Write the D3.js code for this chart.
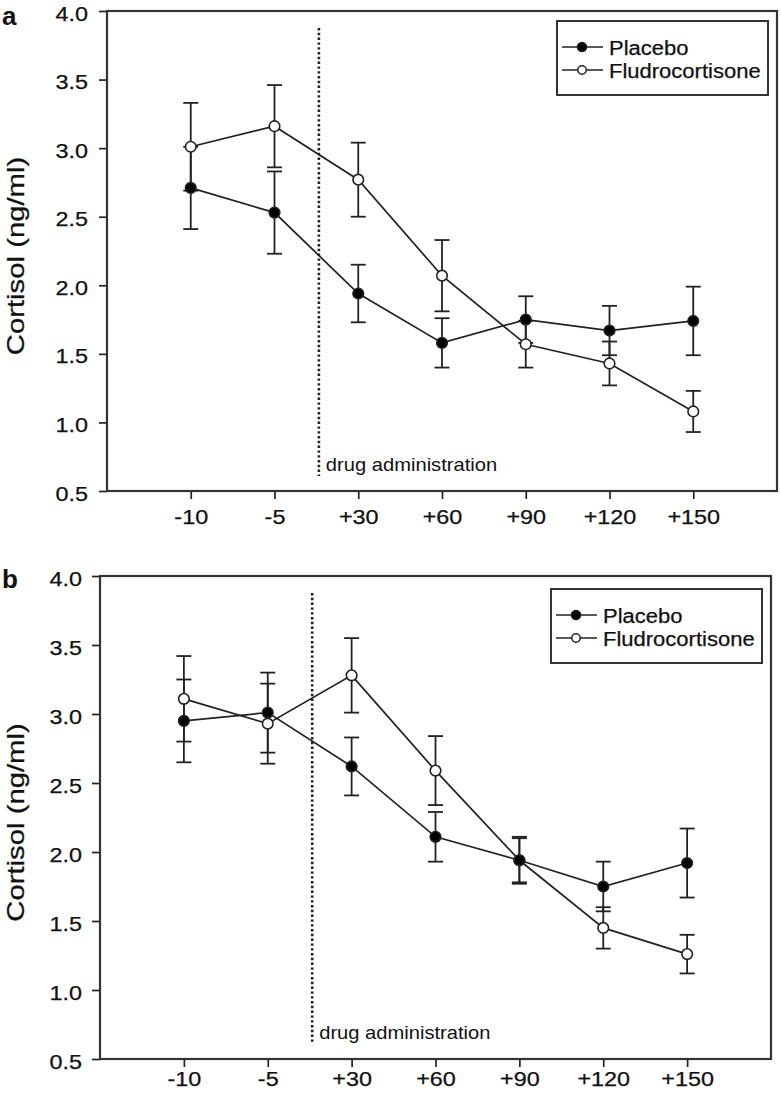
<!DOCTYPE html>
<html>
<head>
<meta charset="utf-8">
<script src="https://cdn.jsdelivr.net/npm/d3@7"></script>
<style>
  html, body { margin: 0; padding: 0; background: #fff; }
  svg { display: block; }
  text { font-family: "Liberation Sans", Arial, sans-serif; fill: #111; }
</style>
</head>
<body>
<svg id="chart" width="781" height="1099"></svg>
<script>
// ---- data ----
const timepoints = ["-10", "-5", "+30", "+60", "+90", "+120", "+150"];
const yTickValues = [0.5, 1.0, 1.5, 2.0, 2.5, 3.0, 3.5, 4.0];
const seriesNames = ["Placebo", "Fludrocortisone"];
const drugIndex = 1.53; // position of drug administration between -5 and +30

const placeboA    = [2.71, 2.53, 1.94, 1.58, 1.75, 1.67, 1.74];
const placeboAErr = [0.30, 0.30, 0.21, 0.18, 0.17, 0.18, 0.25];
const fludroA     = [3.01, 3.16, 2.77, 2.07, 1.57, 1.43, 1.08];
const fludroAErr  = [0.32, 0.30, 0.27, 0.26, 0.17, 0.16, 0.15];

const placeboB    = [2.95, 3.01, 2.62, 2.11, 1.94, 1.75, 1.92];
const placeboBErr = [0.30, 0.29, 0.21, 0.18, 0.17, 0.18, 0.25];
const fludroB     = [3.11, 2.93, 3.28, 2.59, 1.94, 1.45, 1.26];
const fludroBErr  = [0.31, 0.29, 0.27, 0.25, 0.16, 0.15, 0.14];

const svg = d3.select("#chart");
const INK = "#222";

function stretch(sel, factor) {
  sel.each(function () {
    const len = this.getComputedTextLength();
    d3.select(this).attr("textLength", len * factor).attr("lengthAdjust", "spacingAndGlyphs");
  });
}

function drawPanel(cfg) {
  const g = svg.append("g");
  const x = d3.scaleLinear().domain([-1, timepoints.length]).range([cfg.left, cfg.right]);
  const y = d3.scaleLinear().domain([0.5, 4.0]).range([cfg.bottom, cfg.top]);

  // axes
  const yAxis = g.append("g")
    .attr("transform", `translate(${cfg.left},0)`)
    .call(d3.axisLeft(y).tickValues(yTickValues).tickFormat(d3.format(".1f"))
      .tickSize(8).tickSizeOuter(0).tickPadding(cfg.yPad));
  const xAxis = g.append("g")
    .attr("transform", `translate(0,${cfg.bottom})`)
    .call(d3.axisBottom(x).tickValues(d3.range(timepoints.length))
      .tickFormat(i => timepoints[i]).tickSize(8).tickSizeOuter(0).tickPadding(cfg.xPad));
  [yAxis, xAxis].forEach(a => {
    a.select(".domain").remove();
    a.selectAll(".tick line").attr("stroke", INK).attr("stroke-width", 1.7);
    a.selectAll(".tick text").attr("fill", "#111")
      .attr("stroke", "#111").attr("stroke-width", 0.25)
      .style("font-size", "20px").style("font-family", '"Liberation Sans", Arial, sans-serif');
  });
  yAxis.selectAll(".tick text").attr("dy", "0.45em");
  stretch(yAxis.selectAll(".tick text"), 1.17);
  stretch(xAxis.selectAll(".tick text"), 1.17);

  // frame
  g.append("rect")
    .attr("x", cfg.left).attr("y", cfg.top)
    .attr("width", cfg.right - cfg.left).attr("height", cfg.bottom - cfg.top)
    .attr("fill", "none").attr("stroke", "#333").attr("stroke-width", 2.2);

  // drug administration line
  const dx = x(drugIndex);
  g.append("line")
    .attr("x1", dx).attr("x2", dx)
    .attr("y1", cfg.top + 17).attr("y2", cfg.bottom - 15)
    .attr("stroke", INK).attr("stroke-width", 2.6)
    .attr("stroke-dasharray", "2.4,2.4");
  const dt = g.append("text")
    .attr("x", dx + 7).attr("y", cfg.bottom - 20)
    .style("font-size", "19px")
    .text("drug administration");
  stretch(dt, 1.06);

  // y label
  const yl = g.append("text")
    .attr("transform", `translate(${cfg.labelX},${(cfg.top + cfg.bottom) / 2 + cfg.labelDy}) rotate(-90)`)
    .attr("text-anchor", "middle")
    .attr("stroke", "#111").attr("stroke-width", 0.25)
    .style("font-size", "24px")
    .text("Cortisol (ng/ml)");
  stretch(yl, 1.22);

  // panel letter
  g.append("text")
    .attr("x", 2).attr("y", cfg.letterY)
    .style("font-size", "26px").style("font-weight", "bold")
    .text(cfg.letter);

  const series = [
    { name: seriesNames[0], vals: cfg.placebo, err: cfg.placeboErr, fill: "#000" },
    { name: seriesNames[1], vals: cfg.fludro, err: cfg.fludroErr, fill: "#fff" }
  ];

  // error bars
  series.forEach(s => {
    const eb = g.append("g").attr("stroke", INK).attr("stroke-width", 1.8);
    s.vals.forEach((v, i) => {
      const cx = x(i);
      eb.append("line").attr("x1", cx).attr("x2", cx)
        .attr("y1", y(v - s.err[i])).attr("y2", y(v + s.err[i]));
      [v - s.err[i], v + s.err[i]].forEach(e => {
        eb.append("line").attr("x1", cx - 7.5).attr("x2", cx + 7.5)
          .attr("y1", y(e)).attr("y2", y(e));
      });
    });
  });

  // lines
  const line = d3.line().x((d, i) => x(i)).y(d => y(d));
  series.forEach(s => {
    g.append("path").datum(s.vals)
      .attr("d", line).attr("fill", "none")
      .attr("stroke", INK).attr("stroke-width", 1.7);
  });

  // markers (fludro first, placebo on top)
  [series[1], series[0]].forEach(s => {
    g.append("g").selectAll("circle").data(s.vals).join("circle")
      .attr("cx", (d, i) => x(i)).attr("cy", d => y(d))
      .attr("r", 5.3).attr("fill", s.fill)
      .attr("stroke", INK).attr("stroke-width", 1.6);
  });

  // legend
  const lx0 = cfg.right - 220, lx1 = cfg.right - 9;
  const lt = cfg.top + cfg.legTop;
  g.append("rect")
    .attr("x", lx0).attr("y", lt).attr("width", lx1 - lx0).attr("height", 74)
    .attr("fill", "#fff").attr("stroke", "#333").attr("stroke-width", 2);
  series.forEach((s, k) => {
    const ry = lt + 26 + k * 23;
    g.append("line").attr("x1", lx0 + 5).attr("x2", lx0 + 46)
      .attr("y1", ry).attr("y2", ry).attr("stroke", INK).attr("stroke-width", 1.7);
    g.append("circle").attr("cx", lx0 + 25).attr("cy", ry).attr("r", k === 0 ? 4.6 : 4.2)
      .attr("fill", s.fill).attr("stroke", INK).attr("stroke-width", 1.5);
    const t = g.append("text").attr("x", lx0 + 52).attr("y", ry + 7.5)
      .attr("stroke", "#111").attr("stroke-width", 0.25)
      .style("font-size", "20px").text(s.name);
    stretch(t, 1.1);
  });
}

drawPanel({
  letter: "a", letterY: 25,
  left: 107, right: 777, top: 11, bottom: 491,
  yPad: 11, xPad: 11, labelX: 24, labelDy: 5, legTop: 10,
  placebo: placeboA, placeboErr: placeboAErr, fludro: fludroA, fludroErr: fludroAErr
});
drawPanel({
  letter: "b", letterY: 588,
  left: 100, right: 771, top: 576, bottom: 1059,
  yPad: 10, xPad: 5, labelX: 24, labelDy: 5, legTop: 13,
  placebo: placeboB, placeboErr: placeboBErr, fludro: fludroB, fludroErr: fludroBErr
});
</script>
</body>
</html>
